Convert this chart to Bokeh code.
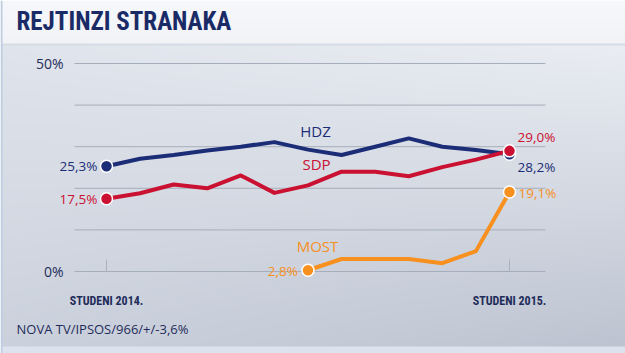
import numpy as np
from bokeh.plotting import figure
from bokeh.models import ColumnDataSource, Range1d
from bokeh.core.properties import value
from bokeh.embed import file_html
from bokeh.resources import INLINE

# ---- data ----
months = list(range(13))  # Nov 2014 .. Nov 2015
hdz = [25.3, 27.1, 28.0, 29.1, 30.0, 31.1, 29.3, 28.0, 30.0, 32.0, 30.0, 29.2, 28.2]
sdp = [17.5, 18.8, 20.9, 20.0, 23.1, 18.9, 20.7, 24.0, 24.0, 22.9, 25.1, 26.9, 29.0]
most_x = [6, 7, 8, 9, 10, 11, 12]
most = [0.3, 3.0, 3.0, 3.0, 2.0, 4.9, 19.1]
grid_ticks = [0, 10, 20, 30, 40, 50]
grid_labels = ["0%", "", "", "", "", "50%"]
x_tick_idx = [0, 12]
x_tick_labels = ["STUDENI 2014.", "STUDENI 2015."]
start_labels = {"HDZ": "25,3%", "SDP": "17,5%", "MOST": "2,8%"}
end_labels = {"HDZ": "28,2%", "SDP": "29,0%", "MOST": "19,1%"}
title = "REJTINZI STRANAKA"
source_note = "NOVA TV/IPSOS/966/+/-3,6%"

NAVY = "#1c2d77"
RED = "#cb1131"
ORANGE = "#f7901e"
TXT = "#1f2c5a"
COND = "Roboto Condensed, DejaVu Sans Condensed, Roboto"

W, H = 625, 353
SX = (509 - 106) / 12.0   # px per month
SY = 4.16                 # px per percent
X0, Y0 = 106, 271         # pixel of (0, 0%)

def xd(px):
    return (px - X0) / SX

def yd(py):
    return (Y0 - py) / SY

p = figure(width=W, height=H, output_backend="svg", toolbar_location=None,
           x_axis_type=None, y_axis_type=None, min_border=0,
           x_range=Range1d(xd(0), xd(W)), y_range=Range1d(yd(H), yd(0)))
p.outline_line_color = None
p.xgrid.visible = False
p.ygrid.visible = False

# ---- background gradient ----
yy, xx = np.mgrid[0:H, 0:W].astype(float)
fx = xx / W
fy = np.clip((yy - 44) / (H - 44), 0, 1)
c_tl = np.array([224, 228, 236.0])
c_br = np.array([188, 195, 208.0])
c_tr = np.array([234, 237, 243.0])
c_bl = np.array([203, 209, 220.0])
img = (c_tl[None, None, :] * ((1 - fx) * (1 - fy))[..., None]
       + c_tr[None, None, :] * (fx * (1 - fy))[..., None]
       + c_bl[None, None, :] * ((1 - fx) * fy)[..., None]
       + c_br[None, None, :] * (fx * fy)[..., None])
top = yy < 44
band = np.array([246, 248, 251.0])
img[top] = band - (yy[top] / 44.0 * 5)[..., None]
img[(yy >= 43) & (yy < 45)] = np.array([214, 220, 230.0])
img[yy >= 346] = np.array([220, 227, 238.0])
img[:, 0:2] = np.array([190, 204, 226.0])
img = np.clip(img, 0, 255).astype(np.uint8)
rgba = np.zeros((H, W), dtype=np.uint32)
view = rgba.view(dtype=np.uint8).reshape((H, W, 4))
view[:, :, 0] = img[:, :, 0]
view[:, :, 1] = img[:, :, 1]
view[:, :, 2] = img[:, :, 2]
view[:, :, 3] = 255
rgba = np.flipud(rgba)
p.image_rgba(image=[rgba], x=xd(0), y=yd(H), dw=xd(W) - xd(0), dh=yd(0) - yd(H))

# ---- grid lines ----
p.segment(x0=[xd(74)] * len(grid_ticks), x1=[xd(545)] * len(grid_ticks),
          y0=grid_ticks, y1=grid_ticks, line_color="#a7aebb", line_width=1)
p.text(x=[xd(63)] * len(grid_ticks), y=grid_ticks, text=grid_labels,
       text_align="right", text_baseline="middle", text_font=value("Open Sans"),
       text_font_size="14px", text_color=TXT)

# x ticks
p.segment(x0=x_tick_idx, x1=x_tick_idx, y0=[0] * 2, y1=[yd(259)] * 2,
          line_color="#aab1bd", line_width=1)
p.text(x=x_tick_idx, y=[yd(300)] * 2, text=x_tick_labels, text_align="center",
       text_baseline="middle", text_font=value(COND),
       text_font_style="bold", text_font_size="12px", text_color=TXT)

# ---- series ----
for xs, ys, col in [(months, hdz, NAVY), (months, sdp, RED), (most_x, most, ORANGE)]:
    p.line(xs, ys, line_color=col, line_width=4, line_join="round")

for xs, ys, col in [(months, hdz, NAVY), (most_x, most, ORANGE), (months, sdp, RED)]:
    p.scatter([xs[0], xs[-1]], [ys[0], ys[-1]], size=12, fill_color=col,
              line_color="white", line_width=1.5)

# series name labels
p.text(x=[xd(315), xd(316), xd(317)], y=[yd(130), yd(163), yd(245)],
       text=["HDZ", "SDP", "MOST"], text_color=[NAVY, RED, ORANGE],
       text_align="center", text_baseline="middle", text_font=value("Open Sans"),
       text_font_size="15px")

# start labels
p.text(x=[months[0] - 0.27, months[0] - 0.27, most_x[0] - 0.3],
       y=[hdz[0], sdp[0], yd(270)],
       text=[start_labels["HDZ"], start_labels["SDP"], start_labels["MOST"]],
       text_color=[NAVY, RED, ORANGE], text_align="right", text_baseline="middle",
       text_font=value("Open Sans"), text_font_size="13.5px")

# end labels
p.text(x=[months[-1] + 0.24, months[-1] + 0.24, most_x[-1] + 0.27],
       y=[yd(166), yd(136), yd(192)],
       text=[end_labels["HDZ"], end_labels["SDP"], end_labels["MOST"]],
       text_color=[NAVY, RED, ORANGE], text_align="left", text_baseline="middle",
       text_font=value("Open Sans"), text_font_size="13.5px")

# title & source
p.text(x=[xd(16)], y=[yd(21)], text=[title], text_align="left", text_baseline="middle",
       text_font=value(COND), text_font_style="bold",
       text_font_size="25px", text_color="#1a2a66")
p.text(x=[xd(16)], y=[yd(328)], text=[source_note], text_align="left",
       text_baseline="middle", text_font=value("Open Sans"), text_font_size="13px",
       text_color=TXT)

open("out.html", "w").write(file_html(p, INLINE))
